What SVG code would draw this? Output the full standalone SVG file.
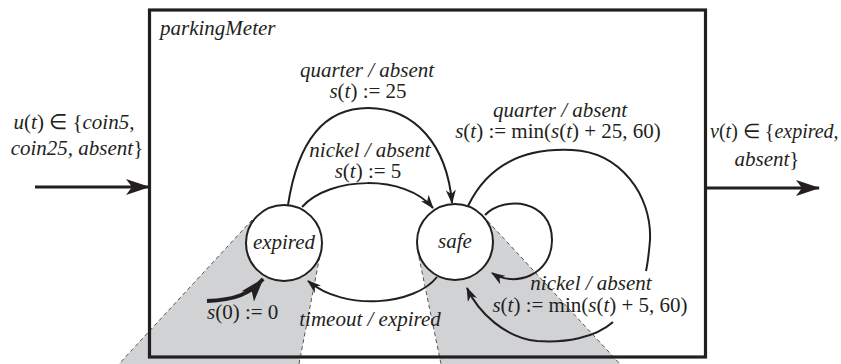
<svg xmlns="http://www.w3.org/2000/svg" width="841" height="364" viewBox="0 0 841 364">
  <style>
    .t { font-family: "Liberation Serif", "Times New Roman", serif; font-size: 21px; fill: #231f20; }
    .i { font-style: italic; }
    .mid { text-anchor: middle; }
    .state { fill: #fff; stroke: #231f20; stroke-width: 2; }
    .edge { fill: none; stroke: #231f20; stroke-width: 2; }
    .wedge { fill: #d1d2d4; stroke: none; }
    .dash { fill: none; stroke: #555; stroke-width: 1; stroke-dasharray: 4 3; }
  </style>
  <defs>
    <marker id="head" viewBox="0 0 14 10" refX="13" refY="5" markerWidth="14" markerHeight="10" markerUnits="userSpaceOnUse" orient="auto">
      <path d="M0,0 L14,5 L0,10 L4,5 z" fill="#231f20"/>
    </marker>
    <marker id="bighead" viewBox="0 0 24 16" refX="23" refY="8" markerWidth="24" markerHeight="16" markerUnits="userSpaceOnUse" orient="auto">
      <path d="M0,0 L24,8 L0,16 L6,8 z" fill="#231f20"/>
    </marker>
  </defs>

  <!-- shaded cones under each state -->
  <g id="shading">
    <polygon class="wedge" points="252,220 119,364 299,364 321,250 284,243"/>
    <polygon class="wedge" points="483,216 620,364 441,364 417.5,250 455,242"/>
    <line class="dash" x1="252" y1="220" x2="119" y2="364"/>
    <line class="dash" x1="321" y1="250" x2="299" y2="364"/>
    <line class="dash" x1="417.5" y1="250" x2="441" y2="364"/>
    <line class="dash" x1="483" y1="216" x2="620" y2="364"/>
  </g>

  <!-- actor boundary -->
  <g id="parkingMeter">
    <rect x="149.5" y="10" width="556" height="347" fill="none" stroke="#231f20" stroke-width="3.2"/>
    <text class="t i" x="160" y="35">parkingMeter</text>
  </g>

  <!-- ports -->
  <g id="input">
    <text class="t mid" x="74" y="129"><tspan class="i">u</tspan>(<tspan class="i">t</tspan>) ∈ {<tspan class="i">coin5,</tspan></text>
    <text class="t mid" x="77" y="155"><tspan class="i">coin25, absent</tspan>}</text>
  </g>
  <g id="output">
    <text class="t" x="710" y="138" style="font-size:20px"><tspan class="i">v</tspan>(<tspan class="i">t</tspan>) ∈ {<tspan class="i">expired,</tspan></text>
    <text class="t mid" x="767" y="166"><tspan class="i">absent</tspan>}</text>
  </g>

  <!-- states -->
  <g id="expired">
    <circle class="state" cx="284" cy="243" r="38"/>
    <text class="t i mid" x="284" y="249">expired</text>
  </g>
  <g id="safe">
    <circle class="state" cx="455" cy="242" r="38"/>
    <text class="t i mid" x="455" y="248">safe</text>
  </g>

  <!-- transitions -->
  <g id="connectors">
    <line x1="35" y1="187" x2="149" y2="187" stroke="#231f20" stroke-width="3" marker-end="url(#bighead)"/>
    <line x1="707" y1="188" x2="819" y2="188" stroke="#231f20" stroke-width="3" marker-end="url(#bighead)"/>
    <path d="M207,301 C235,300 250,294 263,279" fill="none" stroke="#231f20" stroke-width="4" marker-end="url(#bighead)"/>
    <path class="edge" d="M288,205 C298,140 325,108 368,108 C415,108 447,145 452,203" marker-end="url(#head)"/>
    <path class="edge" d="M302,207 C330,176 405,174 433,208" marker-end="url(#head)"/>
    <path class="edge" d="M437,277 C415,305 345,312 308,281" marker-end="url(#head)"/>
    <path class="edge" d="M485,215 C505,195 552,200 552,240 C552,275 515,288 492,273" marker-end="url(#head)"/>
    <path class="edge" d="M468,206 C490,160 530,148 572,150 C620,152 652,195 650,240 C649,252 648,262 646,271"/>
    <path class="edge" d="M613,322 C595,338 565,343 537,341 C505,338 478,312 467,288" marker-end="url(#head)"/>
  </g>

  <!-- transition labels -->
  <g id="labels">
    <text class="t i mid" x="367" y="77">quarter / absent</text>
    <text class="t mid" x="368" y="98"><tspan class="i">s</tspan>(<tspan class="i">t</tspan>) := 25</text>
    <text class="t i mid" x="370" y="157">nickel / absent</text>
    <text class="t mid" x="368" y="178"><tspan class="i">s</tspan>(<tspan class="i">t</tspan>) := 5</text>
    <text class="t i mid" x="560" y="117">quarter / absent</text>
    <text class="t mid" x="558" y="138"><tspan class="i">s</tspan>(<tspan class="i">t</tspan>) := min(<tspan class="i">s</tspan>(<tspan class="i">t</tspan>) + 25, 60)</text>
    <text class="t i mid" x="591" y="290">nickel / absent</text>
    <text class="t mid" x="590" y="312"><tspan class="i">s</tspan>(<tspan class="i">t</tspan>) := min(<tspan class="i">s</tspan>(<tspan class="i">t</tspan>) + 5, 60)</text>
    <text class="t i mid" x="370" y="326">timeout / expired</text>
    <text class="t" x="207" y="319"><tspan class="i">s</tspan>(0) := 0</text>
  </g>
</svg>
